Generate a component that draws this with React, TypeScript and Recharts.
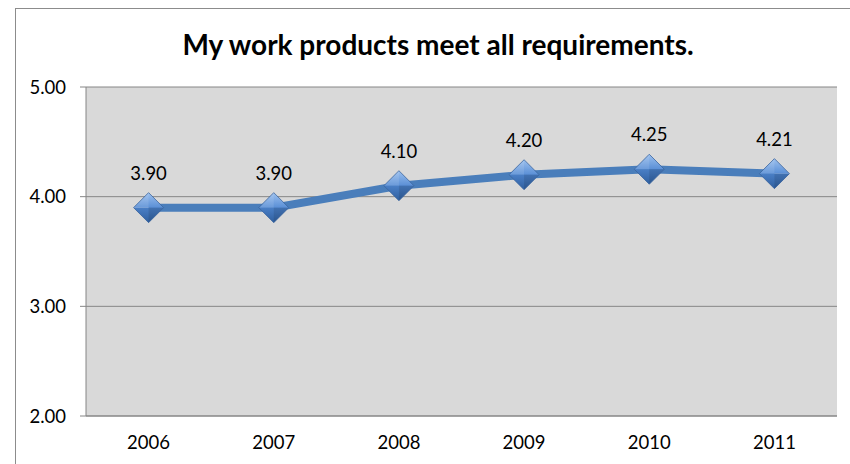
import React from "react";
import { LineChart, Line, XAxis, YAxis, CartesianGrid, LabelList } from "recharts";

const years = ["2006", "2007", "2008", "2009", "2010", "2011"];
const scores = [3.9, 3.9, 4.1, 4.2, 4.25, 4.21];
const yTicks = [2, 3, 4, 5];
const boundaryTicks = [0, 1, 2, 3, 4, 5, 6];
const title = "My work products meet all requirements.";

const data = years.map((y, i) => ({ year: y, score: scores[i] }));

const FONT = "Lato, 'Open Sans', sans-serif";

const Diamond = (props: any) => {
  const { cx, cy, index } = props;
  if (cx == null || cy == null) return null;
  const r = 15;
  const id = `dg${index}`;
  return (
    <g key={`d${index}`}>
      <defs>
        <linearGradient id={id + "t"} x1="0" y1="0" x2="0" y2="1">
          <stop offset="0%" stopColor="#9cc0ee" />
          <stop offset="100%" stopColor="#5a8fd6" />
        </linearGradient>
        <linearGradient id={id + "b"} x1="0" y1="0" x2="0" y2="1">
          <stop offset="0%" stopColor="#4a7fc6" />
          <stop offset="100%" stopColor="#2f5f9f" />
        </linearGradient>
      </defs>
      <polygon points={`${cx - r},${cy} ${cx},${cy - r} ${cx + r},${cy}`} fill={`url(#${id}t)`} />
      <polygon points={`${cx - r},${cy} ${cx},${cy + r} ${cx + r},${cy}`} fill={`url(#${id}b)`} />
      <polygon points={`${cx - r},${cy} ${cx},${cy - r} ${cx},${cy}`} fill="#ffffff" fillOpacity={0.1} />
      <polygon points={`${cx},${cy} ${cx},${cy + r} ${cx + r},${cy}`} fill="#000000" fillOpacity={0.1} />
      <polygon
        points={`${cx - r},${cy} ${cx},${cy - r} ${cx + r},${cy} ${cx},${cy + r}`}
        fill="none"
        stroke="#3a659e"
        strokeWidth={0.8}
      />
    </g>
  );
};

export default function App() {
  return (
    <div style={{ position: "absolute", left: 0, top: 0, width: 850, height: 464, overflow: "hidden", background: "#fff" }}>
      <div
        style={{
          position: "absolute",
          left: 15,
          top: 8,
          width: 846,
          height: 480,
          border: "1.5px solid #8c8c8c",
          boxSizing: "border-box",
        }}
      />
      <div
        style={{
          position: "absolute",
          left: 15,
          width: 846,
          top: 27,
          textAlign: "center",
          fontFamily: FONT,
          fontWeight: 700,
          fontSize: 28,
          lineHeight: "34px",
          color: "#000",
        }}
      >
        {title}
      </div>
      <div style={{ position: "absolute", left: 0, top: 0 }}>
        <LineChart width={850} height={464} data={data} margin={{ top: 87, right: 13, bottom: 18, left: 26 }}>
          <CartesianGrid xAxisId="cat" vertical={false} fill="#d9d9d9" stroke="#868686" strokeWidth={1} />
          <XAxis
            xAxisId="grid"
            type="number"
            domain={[0, 6]}
            ticks={boundaryTicks}
            allowDataOverflow
            height={0}
            tick={false}
            axisLine={false}
            tickLine={{ stroke: "#868686" }}
            tickSize={6}
          />
          <XAxis
            xAxisId="cat"
            dataKey="year"
            scale="band"
            height={30}
            tickLine={false}
            axisLine={{ stroke: "#868686" }}
            tick={{ fill: "#000", fontSize: 18.5, fontFamily: FONT }}
            tickMargin={14}
            interval={0}
          />
          <YAxis
            domain={[2, 5]}
            ticks={yTicks}
            width={60}
            tickFormatter={(v: number) => v.toFixed(2)}
            tick={{ fill: "#000", fontSize: 18.5, fontFamily: FONT }}
            tickLine={{ stroke: "#868686" }}
            axisLine={{ stroke: "#868686" }}
            tickSize={6}
            tickMargin={14}
            allowDataOverflow
          />
          <Line
            xAxisId="cat"
            dataKey="score"
            stroke="#4a7ebb"
            strokeWidth={8}
            isAnimationActive={false}
            dot={<Diamond />}
            activeDot={false}
          >
            <LabelList
              dataKey="score"
              position="top"
              offset={28}
              formatter={(v: number) => v.toFixed(2)}
              style={{ fill: "#000", fontSize: 18.5, fontFamily: FONT }}
            />
          </Line>
        </LineChart>
      </div>
    </div>
  );
}
